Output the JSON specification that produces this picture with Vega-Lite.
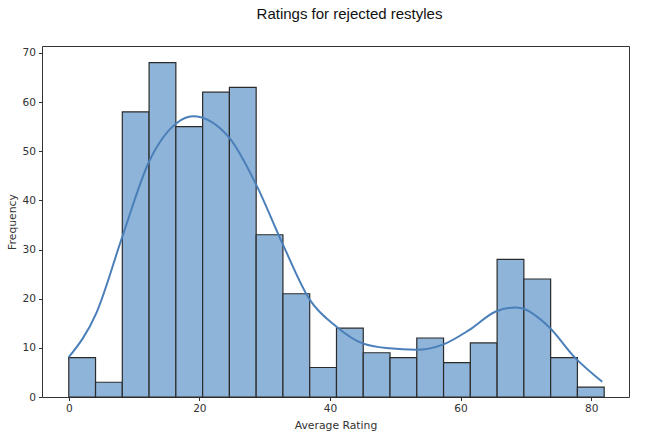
{
  "$schema": "https://vega.github.io/schema/vega-lite/v6.json",
  "autosize": "none",
  "width": 587,
  "height": 351,
  "padding": {"left": 42, "top": 46, "right": 22, "bottom": 40},
  "background": "white",
  "title": {
    "text": "Ratings for rejected restyles",
    "font": "Liberation Sans",
    "fontSize": 15,
    "fontWeight": "normal",
    "color": "#111",
    "anchor": "middle",
    "dx": 14,
    "offset": 24
  },
  "datasets": {
    "bins": [
      {"bin_start": 0.0, "bin_end": 4.1, "count": 8},
      {"bin_start": 4.1, "bin_end": 8.2, "count": 3},
      {"bin_start": 8.2, "bin_end": 12.3, "count": 58},
      {"bin_start": 12.3, "bin_end": 16.4, "count": 68},
      {"bin_start": 16.4, "bin_end": 20.5, "count": 55},
      {"bin_start": 20.5, "bin_end": 24.6, "count": 62},
      {"bin_start": 24.6, "bin_end": 28.7, "count": 63},
      {"bin_start": 28.7, "bin_end": 32.8, "count": 33},
      {"bin_start": 32.8, "bin_end": 36.9, "count": 21},
      {"bin_start": 36.9, "bin_end": 41.0, "count": 6},
      {"bin_start": 41.0, "bin_end": 45.1, "count": 14},
      {"bin_start": 45.1, "bin_end": 49.2, "count": 9},
      {"bin_start": 49.2, "bin_end": 53.3, "count": 8},
      {"bin_start": 53.3, "bin_end": 57.4, "count": 12},
      {"bin_start": 57.4, "bin_end": 61.5, "count": 7},
      {"bin_start": 61.5, "bin_end": 65.6, "count": 11},
      {"bin_start": 65.6, "bin_end": 69.7, "count": 28},
      {"bin_start": 69.7, "bin_end": 73.8, "count": 24},
      {"bin_start": 73.8, "bin_end": 77.9, "count": 8},
      {"bin_start": 77.9, "bin_end": 82.0, "count": 2}
    ],
    "kde": [
      {"rating": 0, "density": 8.1},
      {"rating": 4.2, "density": 17.0},
      {"rating": 8.2, "density": 32.6},
      {"rating": 12.3, "density": 47.9},
      {"rating": 16.5, "density": 55.7},
      {"rating": 19.0, "density": 57.1},
      {"rating": 24.6, "density": 52.7},
      {"rating": 28.7, "density": 43.2},
      {"rating": 32.8, "density": 31.0},
      {"rating": 36.9, "density": 19.8},
      {"rating": 41.0, "density": 14.3},
      {"rating": 45.0, "density": 10.9},
      {"rating": 49.1, "density": 9.9},
      {"rating": 53.2, "density": 9.6},
      {"rating": 57.2, "density": 10.6},
      {"rating": 61.3, "density": 13.6},
      {"rating": 65.4, "density": 17.4},
      {"rating": 68.4, "density": 18.2},
      {"rating": 69.5, "density": 18.0},
      {"rating": 73.5, "density": 14.3},
      {"rating": 77.6, "density": 7.9},
      {"rating": 81.7, "density": 3.1}
    ]
  },
  "layer": [
    {
      "data": {"name": "bins"},
      "mark": {"type": "bar", "fill": "#8fb4d9", "stroke": "#2b2b2b", "strokeWidth": 1.2},
      "encoding": {
        "x": {
          "field": "bin_start",
          "type": "quantitative",
          "scale": {"domain": [-4.1, 85.8], "nice": false, "zero": false},
          "axis": {"values": [0, 20, 40, 60, 80], "title": "Average Rating"}
        },
        "x2": {"field": "bin_end"},
        "y": {
          "field": "count",
          "type": "quantitative",
          "scale": {"domain": [0, 71.4], "nice": false},
          "axis": {"values": [0, 10, 20, 30, 40, 50, 60, 70], "title": "Frequency"}
        },
        "y2": {"datum": 0}
      }
    },
    {
      "data": {"name": "kde"},
      "mark": {"type": "line", "color": "#4a7fb9", "strokeWidth": 2, "interpolate": "monotone"},
      "encoding": {
        "x": {"field": "rating", "type": "quantitative"},
        "y": {"field": "density", "type": "quantitative"}
      }
    }
  ],
  "config": {
    "view": {"stroke": "#333", "strokeWidth": 1},
    "axis": {
      "grid": false,
      "domain": false,
      "ticks": true,
      "tickColor": "#333",
      "tickSize": 3.5,
      "labelFont": "DejaVu Sans",
      "labelFontSize": 10.6,
      "labelColor": "#333",
      "labelPadding": 3,
      "titleFont": "DejaVu Sans",
      "titleFontSize": 10.8,
      "titleFontWeight": "normal",
      "titleColor": "#333"
    },
    "axisX": {"titlePadding": 5},
    "axisY": {"titlePadding": 5}
  }
}
